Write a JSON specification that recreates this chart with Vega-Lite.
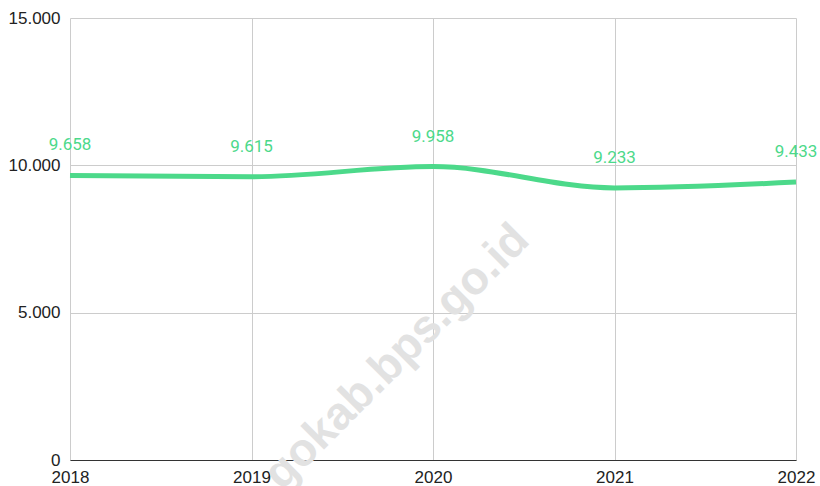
{
  "$schema": "https://vega.github.io/schema/vega-lite/v6.json",
  "width": 726,
  "height": 442,
  "autosize": {"type": "none"},
  "padding": {"left": 70, "top": 18, "right": 24, "bottom": 26},
  "background": "white",
  "config": {
    "view": {"stroke": null},
    "locale": {"number": {"decimal": ",", "thousands": ".", "grouping": [3], "currency": ["Rp", ""]}},
    "font": "Roboto"
  },
  "datasets": {
    "main": [
      {"tahun": 2018, "nilai": 9658},
      {"tahun": 2019, "nilai": 9615},
      {"tahun": 2020, "nilai": 9958},
      {"tahun": 2021, "nilai": 9233},
      {"tahun": 2022, "nilai": 9433}
    ],
    "wm": [
      {"tahun": 2019.8, "nilai": 3500, "teks": "gokab.bps.go.id"}
    ]
  },
  "layer": [
    {
      "data": {"name": "wm"},
      "mark": {"type": "text", "angle": -45, "fontSize": 46, "fontWeight": "bold", "font": "Liberation Sans", "color": "#e2e2e2", "align": "center", "baseline": "middle", "clip": false},
      "encoding": {
        "x": {"field": "tahun", "type": "quantitative", "scale": {"domain": [2018, 2022], "nice": false}},
        "y": {"field": "nilai", "type": "quantitative", "scale": {"domain": [0, 15000], "nice": false}},
        "text": {"field": "teks"}
      }
    },
    {
      "data": {"name": "main"},
      "mark": {"type": "line", "interpolate": "monotone", "strokeWidth": 5, "color": "#4cd98a"},
      "encoding": {
        "x": {"field": "tahun", "type": "quantitative", "scale": {"domain": [2018, 2022], "nice": false},
          "axis": {"title": null, "format": "d", "values": [2018, 2019, 2020, 2021, 2022], "grid": true, "gridColor": "#cccccc", "ticks": false, "domainColor": "#333333", "labelFontSize": 17, "labelColor": "#222222", "labelPadding": 9, "labelFont": "Liberation Sans", "labelFlush": false, "labelOverlap": false}},
        "y": {"field": "nilai", "type": "quantitative", "scale": {"domain": [0, 15000], "nice": false},
          "axis": {"title": null, "format": ",d", "values": [0, 5000, 10000, 15000], "grid": true, "gridColor": "#cccccc", "ticks": false, "domain": false, "labelFontSize": 17, "labelColor": "#222222", "labelPadding": 10, "labelFont": "Liberation Sans", "labelFlush": false}}
      }
    },
    {
      "data": {"name": "main"},
      "mark": {"type": "text", "fontSize": 17, "color": "#4cd98a", "baseline": "bottom", "dy": -21, "align": "center"},
      "encoding": {
        "x": {"field": "tahun", "type": "quantitative"},
        "y": {"field": "nilai", "type": "quantitative"},
        "text": {"field": "nilai", "type": "quantitative", "format": ",d"}
      }
    }
  ]
}
